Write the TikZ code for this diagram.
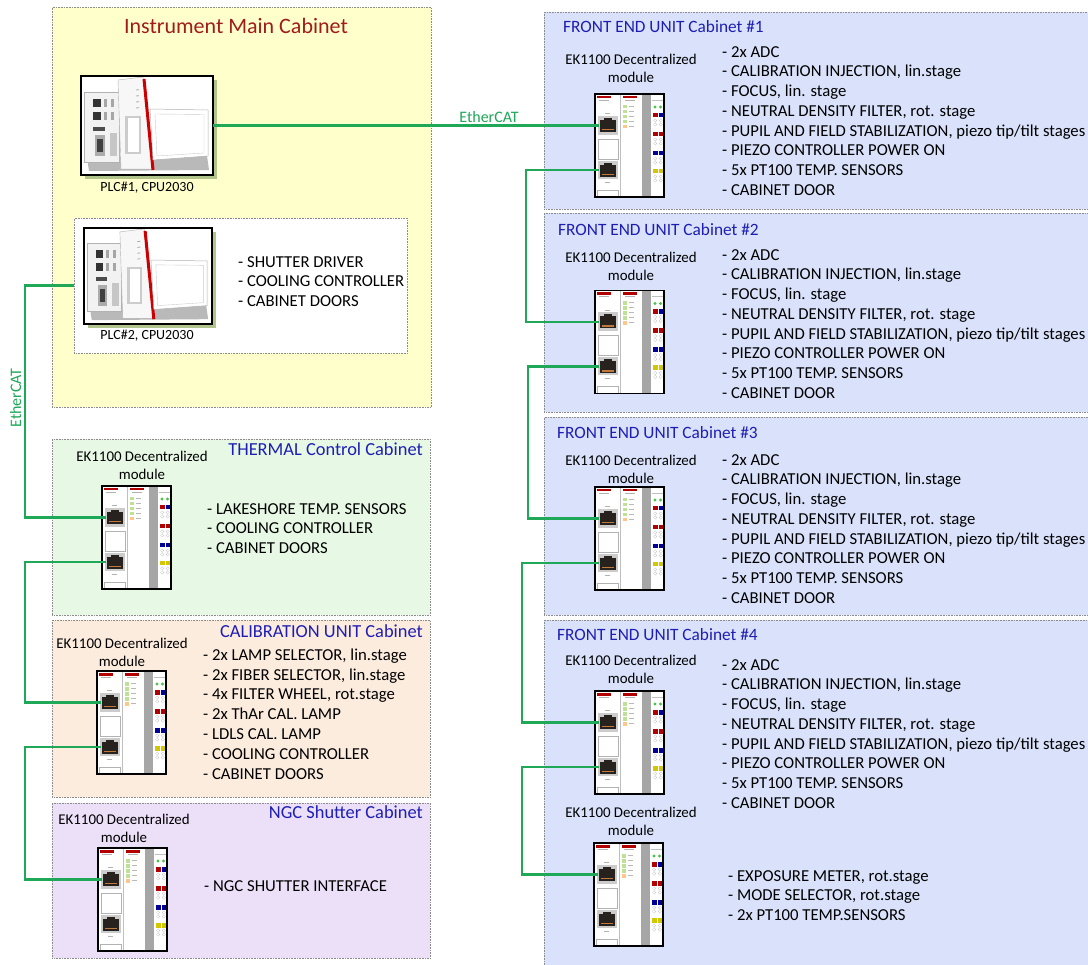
\documentclass[tikz,border=0pt]{standalone}
\usepackage{fontspec}
\setmainfont{Carlito}
\definecolor{ethgreen}{RGB}{30,168,88}
\definecolor{ylw}{RGB}{255,255,204}
\definecolor{grn}{RGB}{231,249,229}
\definecolor{pch}{RGB}{252,236,222}
\definecolor{lav}{RGB}{236,224,248}
\definecolor{blu}{RGB}{217,226,250}
\definecolor{ttlblue}{RGB}{30,30,180}
\definecolor{ttlred}{RGB}{160,28,28}
\definecolor{plcshadow}{RGB}{176,196,140}
\definecolor{portdark}{RGB}{40,34,30}
\definecolor{copper}{RGB}{190,120,60}
\definecolor{ledgreen}{RGB}{190,225,150}
\newcommand\itemlist[5]{%
  \foreach \t [count=\i from 0] in {#5} {\node[item] (#1-\i) at (#2,{#3+\i*#4}) {\t};}}
\tikzset{
  cab/.style={draw=black!45, dash pattern=on 0.8pt off 0.8pt, line width=0.6pt,
    inner sep=0pt, anchor=north west},
  item/.style={anchor=west, inner sep=0pt, text height=10.5pt, text depth=0pt,
    font=\fontsize{16.7}{19}\selectfont},
  plclbl/.style={inner sep=0pt, text height=8.9pt, text depth=0pt,
    font=\fontsize{14}{16}\selectfont},
  eklbl/.style={inner sep=0pt, text height=9.4pt, text depth=0pt,
    font=\fontsize{14.9}{17}\selectfont},
  ttl/.style={inner sep=0pt, text height=11.6pt, text depth=0pt,
    font=\fontsize{18.4}{20}\selectfont, text=ttlblue},
  fttl/.style={ttl, text height=10.9pt, font=\fontsize{17.3}{19}\selectfont},
  eth/.style={draw=ethgreen, line width=2.6pt},
  ethlbl/.style={inner sep=0pt, text height=10.1pt, text depth=0pt,
    font=\fontsize{16}{18}\selectfont, text=ethgreen},
  ekmod/.pic={
    \fill[white] (0,0) rectangle (69,103);
    \fill[red!70!black] (2,2) rectangle (16,4.5);
    \fill[red!70!black] (28,2) rectangle (42,4.5);
    \fill[gray!60] (4,6) rectangle (14,7);
    \fill[gray!60] (30,6) rectangle (40,7);
    % port 1
    \fill[gray!60] (10,19.3) rectangle (15,20.3);
    \fill[gray!40] (3,22) rectangle (23,41);
    \fill[portdark] (5,26) rectangle (21,38);
    \fill[portdark] (9,24) rectangle (17,26);
    \fill[copper] (7,35) rectangle (19,36.3);
    % gap box
    \draw[gray!60, line width=0.4pt] (3,45) rectangle (23,65);
    % port 2
    \fill[gray!40] (3,67) rectangle (23,85);
    \fill[portdark] (5,71) rectangle (21,83);
    \fill[portdark] (9,69) rectangle (17,71);
    \fill[copper] (7,80) rectangle (19,81.3);
    \fill[gray!60] (10,88) rectangle (15,89);
    \draw[gray!60, line width=0.4pt] (2,96) rectangle (23,103);
    \draw[gray!50, line width=0.4pt] (25,0) -- (25,103);
    % LEDs
    \foreach \k in {0,...,3} {\fill[ledgreen] (28,{11+\k*5}) rectangle (32,{14.5+\k*5});
      \fill[gray!55] (34,{12+\k*5}) rectangle (39,{13+\k*5});}
    \fill[orange!45] (28,31) rectangle (32,34.5);
    \fill[gray!55] (34,32) rectangle (39,33);
    % gray stripe
    \fill[gray!70] (47,0) rectangle (56,103);
    % terminals
    \draw[gray!50, line width=0.3pt] (57,6) -- (69,6);
    \fill[green!65!black!70] (60,13) circle (1.7) (65.5,13) circle (1.7);
    \foreach \yy/\ca/\cb in {19/red!70!black/blue!60!black, 38/red!70!black/red!70!black,
        57/blue!60!black/blue!60!black, 75/yellow!60!olive/yellow!60!olive} {
      \fill[\ca] (58,\yy) rectangle (62.5,{\yy+4.5});
      \fill[\cb] (63.5,\yy) rectangle (68,{\yy+4.5});
      \draw[gray!45, line width=0.3pt] (60.2,{\yy+7.5}) circle (1.7) (65.8,{\yy+7.5}) circle (1.7)
        (60.2,{\yy+11.5}) circle (1.7) (65.8,{\yy+11.5}) circle (1.7);}
    \draw[black, line width=1.5pt] (0,0) rectangle (69,103);
    \coordinate (-p1) at (4,31.5);
    \coordinate (-p2) at (4,76);
  },
  plc/.pic={
    \fill[plcshadow] (4,4) rectangle (136,103);
    \fill[white] (0,0) rectangle (132,99);
    % base
    \fill[gray!55] (6,82) -- (126,80) -- (128,94) -- (8,95) -- cycle;
    % left unit
    \fill[gray!10] (3,16) rectangle (38,86);
    \draw[gray!60, line width=0.4pt] (3,16) rectangle (38,86);
    \fill[black!80] (12,23) rectangle (20,31);
    \fill[black!80] (12,36) rectangle (20,44);
    \foreach \yy in {23,36} {\fill[gray!70] (23,\yy) rectangle (26,{\yy+8});
      \fill[gray!70] (30,\yy) rectangle (33,{\yy+8});}
    \fill[black!70] (12,51) rectangle (24,55);
    \fill[gray!65] (14,59) rectangle (24,80);
    \fill[black!75] (16,63) rectangle (22,76);
    \fill[gray!45] (29,57) rectangle (36,80);
    % middle unit
    \fill[gray!6] (37,4) -- (62,1) -- (73,93) -- (40,93) -- cycle;
    \draw[gray!60, line width=0.4pt] (37,4) -- (62,1) -- (73,93) -- (40,93) -- cycle;
    \foreach \yy in {14,20,26,32} \draw[gray!70, line width=0.8pt] (55,\yy) -- (58,{\yy-0.3});
    \fill[gray!40] (44,40) rectangle (60,78);
    \fill[white] (47,42) rectangle (58,76);
    \draw[red!80!black, line width=3pt] (63,3) -- (72,94);
    % right flap
    \fill[white] (69,33) -- (127,34) -- (127,80) -- (72,84) -- cycle;
    \draw[gray!60, line width=0.5pt] (69,33) -- (127,34) -- (127,80) -- (72,84) -- cycle;
    \draw[gray!40, line width=0.4pt] (74,38) -- (123,38.5) -- (123,77) -- (76,80) -- cycle;
    \draw[black, line width=1.6pt] (0,0) rectangle (132,99);
    \coordinate (-e) at (132,49.5);
    \coordinate (-w) at (0,49.5);
  }
}
\begin{document}
\begin{tikzpicture}[x=1pt,y=-1pt]
\clip (0,0) rectangle (1088,965);
\fill[white] (0,0) rectangle (1088,965);
% ---------- cabinets ----------
\node[cab, fill=ylw, minimum width=379pt, minimum height=400pt] (main) at (52,7) {};
\node[cab, fill=white, minimum width=333pt, minimum height=135pt] (plc2box) at (74,218) {};
\node[cab, fill=grn, minimum width=378pt, minimum height=176pt] (thermal) at (52,439) {};
\node[cab, fill=pch, minimum width=378pt, minimum height=177pt] (calib) at (52,620) {};
\node[cab, fill=lav, minimum width=378pt, minimum height=155pt] (ngc) at (52,803) {};
\node[cab, fill=blu, minimum width=560pt, minimum height=197pt] (fecab1) at (544,12) {};
\node[cab, fill=blu, minimum width=560pt, minimum height=199pt] (fecab2) at (544,213) {};
\node[cab, fill=blu, minimum width=560pt, minimum height=198pt] (fecab3) at (544,417) {};
\node[cab, fill=blu, minimum width=560pt, minimum height=360pt] (fecab4) at (544,620) {};
% ---------- titles ----------
\node[inner sep=0pt, text height=13.9pt, text depth=0pt, font=\fontsize{22}{24}\selectfont,
  text=ttlred] (maint) at (236,27) {Instrument Main Cabinet};
\node[ttl, anchor=east] (thermalt) at (423,450) {THERMAL Control Cabinet};
\node[ttl, anchor=east] (calibt) at (423,632) {CALIBRATION UNIT Cabinet};
\node[ttl, anchor=east] (ngct) at (423,813) {NGC Shutter Cabinet};
\node[fttl, anchor=west] (fe1t) at (563,27) {FRONT END UNIT Cabinet \#1};
\node[fttl, anchor=west] (fe2t) at (558,230) {FRONT END UNIT Cabinet \#2};
\node[fttl, anchor=west] (fe3t) at (557,433) {FRONT END UNIT Cabinet \#3};
\node[fttl, anchor=west] (fe4t) at (557,635) {FRONT END UNIT Cabinet \#4};
% ---------- PLCs ----------
\pic (plc1) at (81,76) {plc};
\node[plclbl] (plc1l) at (147,187) {PLC\#1, CPU2030};
\pic[scale=0.97] (plc2) at (84,228) {plc};
\node[plclbl] (plc2l) at (147,335) {PLC\#2, CPU2030};
\itemlist{plcl}{238}{262}{19.5}{{- SHUTTER DRIVER},{- COOLING CONTROLLER},{- CABINET DOORS}}
% ---------- EK1100 modules ----------
\pic (th) at (102,486) {ekmod};
\pic (cal) at (97,671) {ekmod};
\pic (ng) at (98,848) {ekmod};
\pic (fe1) at (595,94) {ekmod};
\pic (fe2) at (595,290.5) {ekmod};
\pic (fe3) at (595,487) {ekmod};
\pic (fe4) at (595,691) {ekmod};
\pic (fe5) at (594,843) {ekmod};
% EK labels
\foreach \nm/\xx/\yy in {th/142/457, cal/122/644, ng/124/820, fe1/631/60, fe2/631/258,
    fe3/631/461, fe4/631/661, fe5/631/813} {
  \node[eklbl] (\nm-la) at (\xx,\yy) {EK1100 Decentralized};
  \node[eklbl] (\nm-lb) at (\xx,{\yy+17.5}) {module};
}
% ---------- lists ----------
\itemlist{thl}{207}{509}{19.5}{{- LAKESHORE TEMP. SENSORS},{- COOLING CONTROLLER},{- CABINET DOORS}}
\itemlist{call}{203}{655}{19.8}{{- 2x LAMP SELECTOR, lin.stage},{- 2x FIBER SELECTOR, lin.stage},{- 4x FILTER WHEEL, rot.stage},{- 2x ThAr CAL. LAMP},{- LDLS CAL. LAMP},{- COOLING CONTROLLER},{- CABINET DOORS}}
\itemlist{ngl}{204}{886}{19.8}{{- NGC SHUTTER INTERFACE}}
\itemlist{fe1l}{722}{52}{19.7}{{- 2x ADC},{- CALIBRATION INJECTION, lin.stage},{- FOCUS, lin. stage},{- NEUTRAL DENSITY FILTER, rot. stage},{- PUPIL AND FIELD STABILIZATION, piezo tip/tilt stages},{- PIEZO CONTROLLER POWER ON},{- 5x PT100 TEMP. SENSORS},{- CABINET DOOR}}
\itemlist{fe2l}{722}{255}{19.7}{{- 2x ADC},{- CALIBRATION INJECTION, lin.stage},{- FOCUS, lin. stage},{- NEUTRAL DENSITY FILTER, rot. stage},{- PUPIL AND FIELD STABILIZATION, piezo tip/tilt stages},{- PIEZO CONTROLLER POWER ON},{- 5x PT100 TEMP. SENSORS},{- CABINET DOOR}}
\itemlist{fe3l}{722}{460}{19.7}{{- 2x ADC},{- CALIBRATION INJECTION, lin.stage},{- FOCUS, lin. stage},{- NEUTRAL DENSITY FILTER, rot. stage},{- PUPIL AND FIELD STABILIZATION, piezo tip/tilt stages},{- PIEZO CONTROLLER POWER ON},{- 5x PT100 TEMP. SENSORS},{- CABINET DOOR}}
\itemlist{fe4l}{722}{665}{19.7}{{- 2x ADC},{- CALIBRATION INJECTION, lin.stage},{- FOCUS, lin. stage},{- NEUTRAL DENSITY FILTER, rot. stage},{- PUPIL AND FIELD STABILIZATION, piezo tip/tilt stages},{- PIEZO CONTROLLER POWER ON},{- 5x PT100 TEMP. SENSORS},{- CABINET DOOR}}
\itemlist{fe5l}{728}{876}{19.7}{{- EXPOSURE METER, rot.stage},{- MODE SELECTOR, rot.stage},{- 2x PT100 TEMP.SENSORS}}
% ---------- EtherCAT links ----------
\draw[eth] (plc1-e) -- (fe1-p1);
\node[ethlbl] (ethh) at (489,117) {EtherCAT};
\draw[eth] (fe1-p2) -- ++(-73,0) |- (fe2-p1);
\draw[eth] (fe2-p2) -- ++(-71,0) |- (fe3-p1);
\draw[eth] (fe3-p2) -- ++(-77,0) |- (fe4-p1);
\draw[eth] (fe4-p2) -- ++(-77,0) |- (fe5-p1);
\draw[eth] (plc2box.west) -- ++(-49,0) |- (th-p1);
\node[ethlbl, rotate=90] (ethv) at (16,398) {EtherCAT};
\draw[eth] (th-p2) -- ++(-81,0) |- (cal-p1);
\draw[eth] (cal-p2) -- ++(-76,0) |- (ng-p1);
\end{tikzpicture}
\end{document}
